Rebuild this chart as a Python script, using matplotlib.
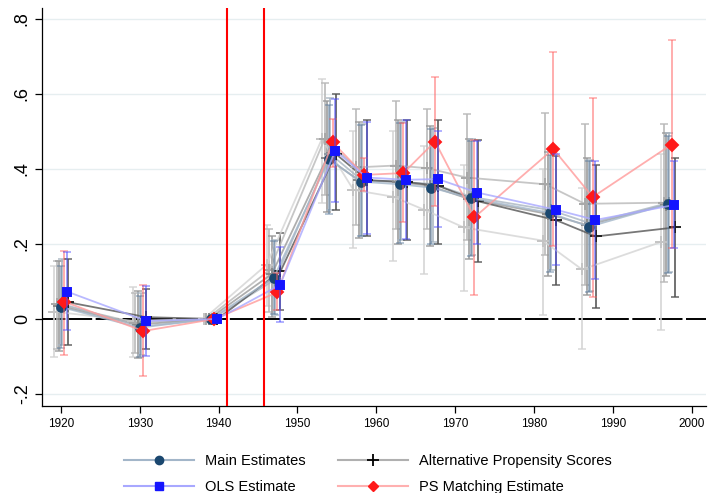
import numpy as np
import matplotlib
matplotlib.use("Agg")
import matplotlib.pyplot as plt
from matplotlib.lines import Line2D

plt.rcParams['font.family'] = ['Liberation Sans', 'DejaVu Sans']

# cohorts (birth year groups)
years = np.array([1920, 1930, 1939, 1947, 1954, 1958, 1963, 1967, 1972, 1982, 1987, 1997])

# main estimates
main = [0.032, -0.023, 0, 0.110, 0.426, 0.366, 0.359, 0.350, 0.322, 0.283, 0.246, 0.306]
main_lo = [-0.078, -0.100, 0, 0.013, 0.280, 0.220, 0.202, 0.200, 0.168, 0.124, 0.071, 0.123]
main_hi = [0.142, 0.062, 0, 0.209, 0.571, 0.517, 0.522, 0.506, 0.475, 0.437, 0.420, 0.489]

# OLS
ols = [0.073, -0.005, 0, 0.091, 0.449, 0.377, 0.371, 0.373, 0.337, 0.291, 0.264, 0.304]
ols_lo = [-0.030, -0.099, 0, -0.009, 0.311, 0.226, 0.212, 0.246, 0.200, 0.144, 0.107, 0.189]
ols_hi = [0.178, 0.088, 0, 0.193, 0.586, 0.526, 0.530, 0.500, 0.475, 0.440, 0.422, 0.420]

# PS matching
psm = [0.046, -0.032, 0, 0.071, 0.471, 0.384, 0.389, 0.473, 0.271, 0.453, 0.325, 0.465]
psm_lo = [-0.096, -0.152, 0, 0.024, 0.405, 0.340, 0.259, 0.301, 0.064, 0.195, 0.060, 0.189]
psm_hi = [0.182, 0.091, 0, 0.123, 0.533, 0.430, 0.522, 0.645, 0.476, 0.712, 0.589, 0.744]

# alternative propensity scores (5 specs)
alt1 = [0.020, -0.005, 0, 0.145, 0.480, 0.344, 0.326, 0.291, 0.244, 0.209, 0.132, 0.205]
alt1_lo = [-0.100, -0.100, 0, 0.035, 0.310, 0.190, 0.155, 0.120, 0.075, 0.010, -0.080, -0.030]
alt1_hi = [0.140, 0.085, 0, 0.250, 0.640, 0.500, 0.500, 0.460, 0.410, 0.400, 0.350, 0.440]

alt2 = [0.040, -0.010, 0, 0.130, 0.480, 0.404, 0.409, 0.402, 0.377, 0.359, 0.307, 0.310]
alt2_lo = [-0.080, -0.090, 0, 0.020, 0.330, 0.250, 0.240, 0.240, 0.210, 0.170, 0.090, 0.100]
alt2_hi = [0.155, 0.070, 0, 0.240, 0.630, 0.560, 0.580, 0.560, 0.545, 0.550, 0.520, 0.520]

alt3 = [0.035, -0.015, 0, 0.120, 0.430, 0.370, 0.365, 0.355, 0.320, 0.280, 0.250, 0.305]
alt3_lo = [-0.085, -0.105, 0, 0.005, 0.285, 0.215, 0.200, 0.195, 0.160, 0.115, 0.065, 0.115]
alt3_hi = [0.155, 0.075, 0, 0.220, 0.580, 0.525, 0.530, 0.515, 0.480, 0.445, 0.430, 0.495]

alt4 = [0.040, -0.020, 0, 0.105, 0.440, 0.370, 0.365, 0.360, 0.325, 0.290, 0.255, 0.310]
alt4_lo = [-0.070, -0.095, 0, 0.010, 0.290, 0.220, 0.210, 0.205, 0.170, 0.130, 0.075, 0.125]
alt4_hi = [0.160, 0.070, 0, 0.210, 0.590, 0.520, 0.525, 0.510, 0.480, 0.445, 0.425, 0.495]

alt5 = [0.045, 0.005, 0, 0.127, 0.440, 0.370, 0.365, 0.355, 0.314, 0.263, 0.220, 0.244]
alt5_lo = [-0.070, -0.080, 0, 0.025, 0.290, 0.220, 0.210, 0.200, 0.153, 0.090, 0.030, 0.060]
alt5_hi = [0.160, 0.080, 0, 0.230, 0.600, 0.530, 0.530, 0.530, 0.477, 0.435, 0.410, 0.430]

alts = [(alt1, alt1_lo, alt1_hi, -0.9, '#d4d4d4', '#c4c4c4'),
        (alt2, alt2_lo, alt2_hi, -0.55, '#b8b8b8', '#a8a8a8'),
        (alt3, alt3_lo, alt3_hi, -0.25, '#9a9a9a', '#8a8a8a'),
        (alt4, alt4_lo, alt4_hi, 0.15, '#a9b6c2', '#8e9aa6'),
        (alt5, alt5_lo, alt5_hi, 0.85, '#555555', '#222222')]

fig = plt.figure(figsize=(7.08, 4.93), dpi=100)
ax = fig.add_axes([0.0593, 0.177, 0.9377, 0.807])


def draw(x, y, lo, hi, lcol, mcol, ecol, marker, ms, z, alpha=0.55):
    y = np.array(y)
    err = [y - np.array(lo), np.array(hi) - y]
    ax.errorbar(x, y, yerr=err, fmt='none', ecolor=ecol, elinewidth=1.3,
                capsize=3, capthick=1.1, alpha=alpha, zorder=z)
    ax.plot(x, y, '-', color=lcol, lw=1.3, alpha=0.8, zorder=z + 0.1)
    ax.plot(x, y, linestyle='none', marker=marker, color=mcol, ms=ms,
            mew=1.4, zorder=z + 0.2)


for a, lo, hi, off, lc, mc in alts:
    draw(years + off, a, lo, hi, lc, mc, lc, '+', 8, 2, alpha=0.9)

draw(years, main, main_lo, main_hi, '#a3b6c9', '#1a476f', '#56779a', 'o', 6.3, 3)
draw(years + 0.45, psm, psm_lo, psm_hi, '#ff9a9a', '#ff1a1a', '#ff6060', 'D', 6.0, 4)
draw(years + 0.8, ols, ols_lo, ols_hi, '#a8a8ff', '#1414ff', '#4a4aff', 's', 5.8, 5)

ax.axhline(0, color='black', lw=1.4, dashes=(12, 1.8), zorder=1.5)
ax.axvline(1941.1, color='#ff0000', lw=1.5, zorder=6)
ax.axvline(1945.8, color='#ff0000', lw=1.5, zorder=6)

ax.set_xlim(1917.6, 2001.8)
ax.set_ylim(-0.231, 0.829)
ax.set_xticks(np.arange(1920, 2001, 10))
ax.set_yticks([-0.2, 0, 0.2, 0.4, 0.6, 0.8])
ax.set_yticklabels(['-.2', '0', '.2', '.4', '.6', '.8'], rotation=90, va='center')
ax.tick_params(axis='y', labelsize=13, length=5, width=0.9, pad=3)
ax.tick_params(axis='x', labelsize=8.5, length=5, width=0.9, pad=4)
for yy in [-0.2, 0.2, 0.4, 0.6, 0.8]:
    ax.axhline(yy, color='#e6eef0', lw=1, zorder=0)

for s in ['top', 'right']:
    ax.spines[s].set_visible(False)
for s in ['left', 'bottom']:
    ax.spines[s].set_linewidth(0.9)

handles = [
    Line2D([], [], color='#a3b6c9', lw=1.5, marker='o', mfc='#1a476f', mec='#1a476f', ms=6),
    Line2D([], [], color='#a8a8ff', lw=1.5, marker='s', mfc='#1414ff', mec='#1414ff', ms=5.5),
    Line2D([], [], color='#b0b0b0', lw=1.5, marker='+', mec='black', ms=8, mew=1.3),
    Line2D([], [], color='#ffb0b0', lw=1.5, marker='D', mfc='#ff1a1a', mec='#ff1a1a', ms=5.5),
]
labels = ['Main Estimates', 'OLS Estimate', 'Alternative Propensity Scores', 'PS Matching Estimate']
fig.legend(handles, labels, ncol=2, loc='lower left', bbox_to_anchor=(0.157, -0.029),
           frameon=False, fontsize=10.5, handlelength=4.8, handletextpad=0.75,
           columnspacing=2.2, labelspacing=0.82)

fig.savefig('out.png', dpi=100)
